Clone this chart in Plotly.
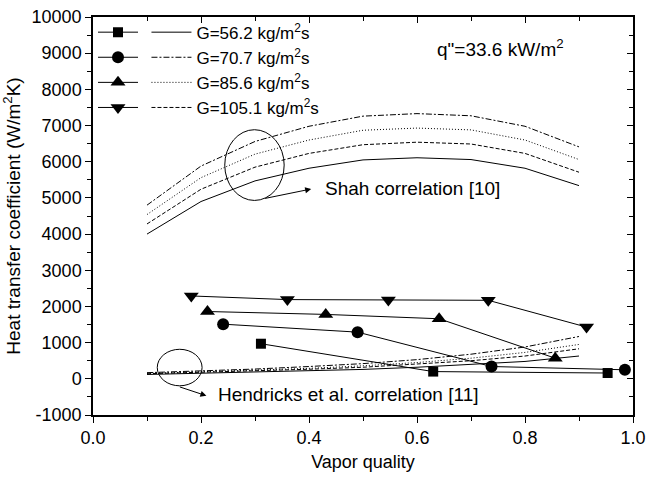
import plotly.graph_objects as go

# ---------------- data ----------------
labels = ["G=56.2 kg/m<sup>2</sup>s", "G=70.7 kg/m<sup>2</sup>s",
          "G=85.6 kg/m<sup>2</sup>s", "G=105.1 kg/m<sup>2</sup>s"]

# experimental points
exp_x_562 = [0.311, 0.630, 0.953]
exp_y_562 = [970, 200, 160]
exp_x_707 = [0.241, 0.490, 0.738, 0.985]
exp_y_707 = [1510, 1290, 340, 250]
exp_x_856 = [0.212, 0.431, 0.641, 0.856]
exp_y_856 = [1860, 1780, 1660, 570]
exp_x_1051 = [0.182, 0.360, 0.547, 0.732, 0.914]
exp_y_1051 = [2290, 2190, 2180, 2170, 1430]

# correlations (x = 0.1 ... 0.9)
corr_x = [0.1, 0.2, 0.3, 0.4, 0.5, 0.6, 0.7, 0.8, 0.9]
shah_solid = [4000, 4900, 5470, 5820, 6050, 6110, 6060, 5820, 5340]
shah_dashed = [4280, 5240, 5850, 6230, 6470, 6540, 6490, 6230, 5710]
shah_dotted = [4540, 5560, 6210, 6600, 6870, 6930, 6880, 6600, 6060]
shah_dashdot = [4800, 5880, 6560, 6980, 7260, 7330, 7270, 6980, 6410]

hend_solid = [120, 150, 180, 220, 260, 320, 390, 480, 630]
hend_dashed = [140, 175, 215, 265, 320, 400, 500, 630, 830]
hend_dotted = [150, 190, 235, 290, 360, 450, 570, 730, 950]
hend_dashdot = [170, 215, 270, 340, 420, 530, 680, 880, 1170]

x_ticks = [0.0, 0.2, 0.4, 0.6, 0.8, 1.0]
x_tick_text = ["0.0", "0.2", "0.4", "0.6", "0.8", "1.0"]
y_ticks = [-1000, 0, 1000, 2000, 3000, 4000, 5000, 6000, 7000, 8000, 9000, 10000]
y_tick_text = ["-1000", "0", "1000", "2000", "3000", "4000", "5000",
               "6000", "7000", "8000", "9000", "10000"]

# ---------------- styles ----------------
FONT = "Liberation Sans, Arial, Helvetica, sans-serif"
DASH_SOLID = "solid"
DASH_DASHDOT = "6px,2px,2px,2px"
DASH_DOT = "1px,2px"
DASH_DASH = "4px,2px"

fig = go.Figure()

exp_sets = [
    (exp_x_562, exp_y_562, "square", 10),
    (exp_x_707, exp_y_707, "circle", 12),
    (exp_x_856, exp_y_856, "triangle-up", 13),
    (exp_x_1051, exp_y_1051, "triangle-down", 13),
]
for (xs, ys, sym, sz), lab in zip(exp_sets, labels):
    fig.add_trace(go.Scatter(
        x=xs, y=ys, mode="lines+markers", name=" ",
        line=dict(color="black", width=1),
        marker=dict(symbol=sym, size=sz, color="black"),
        cliponaxis=False, legend="legend", showlegend=True))

shah_sets = [(shah_solid, DASH_SOLID), (shah_dashdot, DASH_DASHDOT),
             (shah_dotted, DASH_DOT), (shah_dashed, DASH_DASH)]
for (ys, dash), lab in zip(shah_sets, labels):
    fig.add_trace(go.Scatter(
        x=corr_x, y=ys, mode="lines", name=lab,
        line=dict(color="black", width=1, dash=dash),
        legend="legend2", showlegend=True))

hend_sets = [(hend_solid, DASH_SOLID), (hend_dashdot, DASH_DASHDOT),
             (hend_dotted, DASH_DOT), (hend_dashed, DASH_DASH)]
for ys, dash in hend_sets:
    fig.add_trace(go.Scatter(
        x=corr_x, y=ys, mode="lines", showlegend=False,
        line=dict(color="black", width=1, dash=dash)))

# empty trace so the mirrored axes are drawn
fig.add_trace(go.Scatter(x=[], y=[], xaxis="x2", yaxis="y2", showlegend=False))

axis_common = dict(showgrid=False, zeroline=False, linecolor="black",
                   linewidth=1.5, tickcolor="black", tickwidth=1.2,
                   automargin=False)

fig.update_layout(
    width=649, height=478,
    margin=dict(l=93, r=16, t=17, b=63, autoexpand=False),
    paper_bgcolor="white", plot_bgcolor="white",
    font=dict(family=FONT, size=18, color="black"),
    xaxis=dict(range=[0, 1], tickvals=x_ticks, ticktext=x_tick_text,
               ticks="outside", ticklen=6,
               minor=dict(dtick=0.1, ticks="outside", ticklen=4, tickcolor="black"),
               title=dict(text="Vapor quality", standoff=8, font=dict(size=18)),
               **axis_common),
    yaxis=dict(range=[-1000, 10000], tickvals=y_ticks, ticktext=y_tick_text,
               ticks="outside", ticklen=6,
               minor=dict(dtick=500, ticks="outside", ticklen=4, tickcolor="black"),
               title=dict(text="Heat transfer coefficient (W/m<sup>2</sup>K)",
                          standoff=6, font=dict(size=19)),
               **axis_common),
    xaxis2=dict(range=[0, 1], overlaying="x", side="top", anchor="y",
                tickvals=x_ticks, ticks="inside", ticklen=6, showticklabels=False,
                minor=dict(dtick=0.1, ticks="inside", ticklen=4, tickcolor="black"),
                **axis_common),
    yaxis2=dict(range=[-1000, 10000], overlaying="y", side="right", anchor="x",
                tickvals=y_ticks, ticks="inside", ticklen=6, showticklabels=False,
                minor=dict(dtick=500, ticks="inside", ticklen=4, tickcolor="black"),
                **axis_common),
    legend=dict(x=0.0, y=1.006, xanchor="left", yanchor="top",
                bgcolor="rgba(0,0,0,0)", font=dict(size=17),
                itemwidth=40, tracegroupgap=0),
    legend2=dict(x=0.099, y=1.006, xanchor="left", yanchor="top",
                 bgcolor="rgba(0,0,0,0)", font=dict(size=17),
                 itemwidth=40, tracegroupgap=0),
)

# annotations
fig.add_shape(type="circle", xref="x", yref="y",
              x0=0.244, x1=0.354, y0=4930, y1=6885,
              line=dict(color="black", width=1))
fig.add_shape(type="circle", xref="x", yref="y",
              x0=0.119, x1=0.202, y0=-193, y1=816,
              line=dict(color="black", width=1))

fig.add_annotation(x=0.404, y=5246, ax=0.316, ay=4978, axref="x", ayref="y",
                   xref="x", yref="y", text="", showarrow=True,
                   arrowhead=2, arrowsize=1.2, arrowwidth=1, arrowcolor="black")
fig.add_annotation(x=0.21, y=-468, ax=0.158, ay=-211, axref="x", ayref="y",
                   xref="x", yref="y", text="", showarrow=True,
                   arrowhead=2, arrowsize=1.2, arrowwidth=1, arrowcolor="black")

fig.add_annotation(x=0.426, y=5250, xref="x", yref="y", xanchor="left",
                   text="Shah correlation [10]", showarrow=False,
                   font=dict(size=19))
fig.add_annotation(x=0.227, y=-440, xref="x", yref="y", xanchor="left",
                   text="Hendricks et al. correlation [11]", showarrow=False,
                   font=dict(size=19))
fig.add_annotation(x=0.634, y=9150, xref="x", yref="y", xanchor="left",
                   text="q\"=33.6 kW/m<sup>2</sup>", showarrow=False,
                   font=dict(size=19))

fig.write_html("out.html",
               config={"displayModeBar": False},
               post_script="document.body.style.margin='0';"
                           "document.body.style.overflow='hidden';")
